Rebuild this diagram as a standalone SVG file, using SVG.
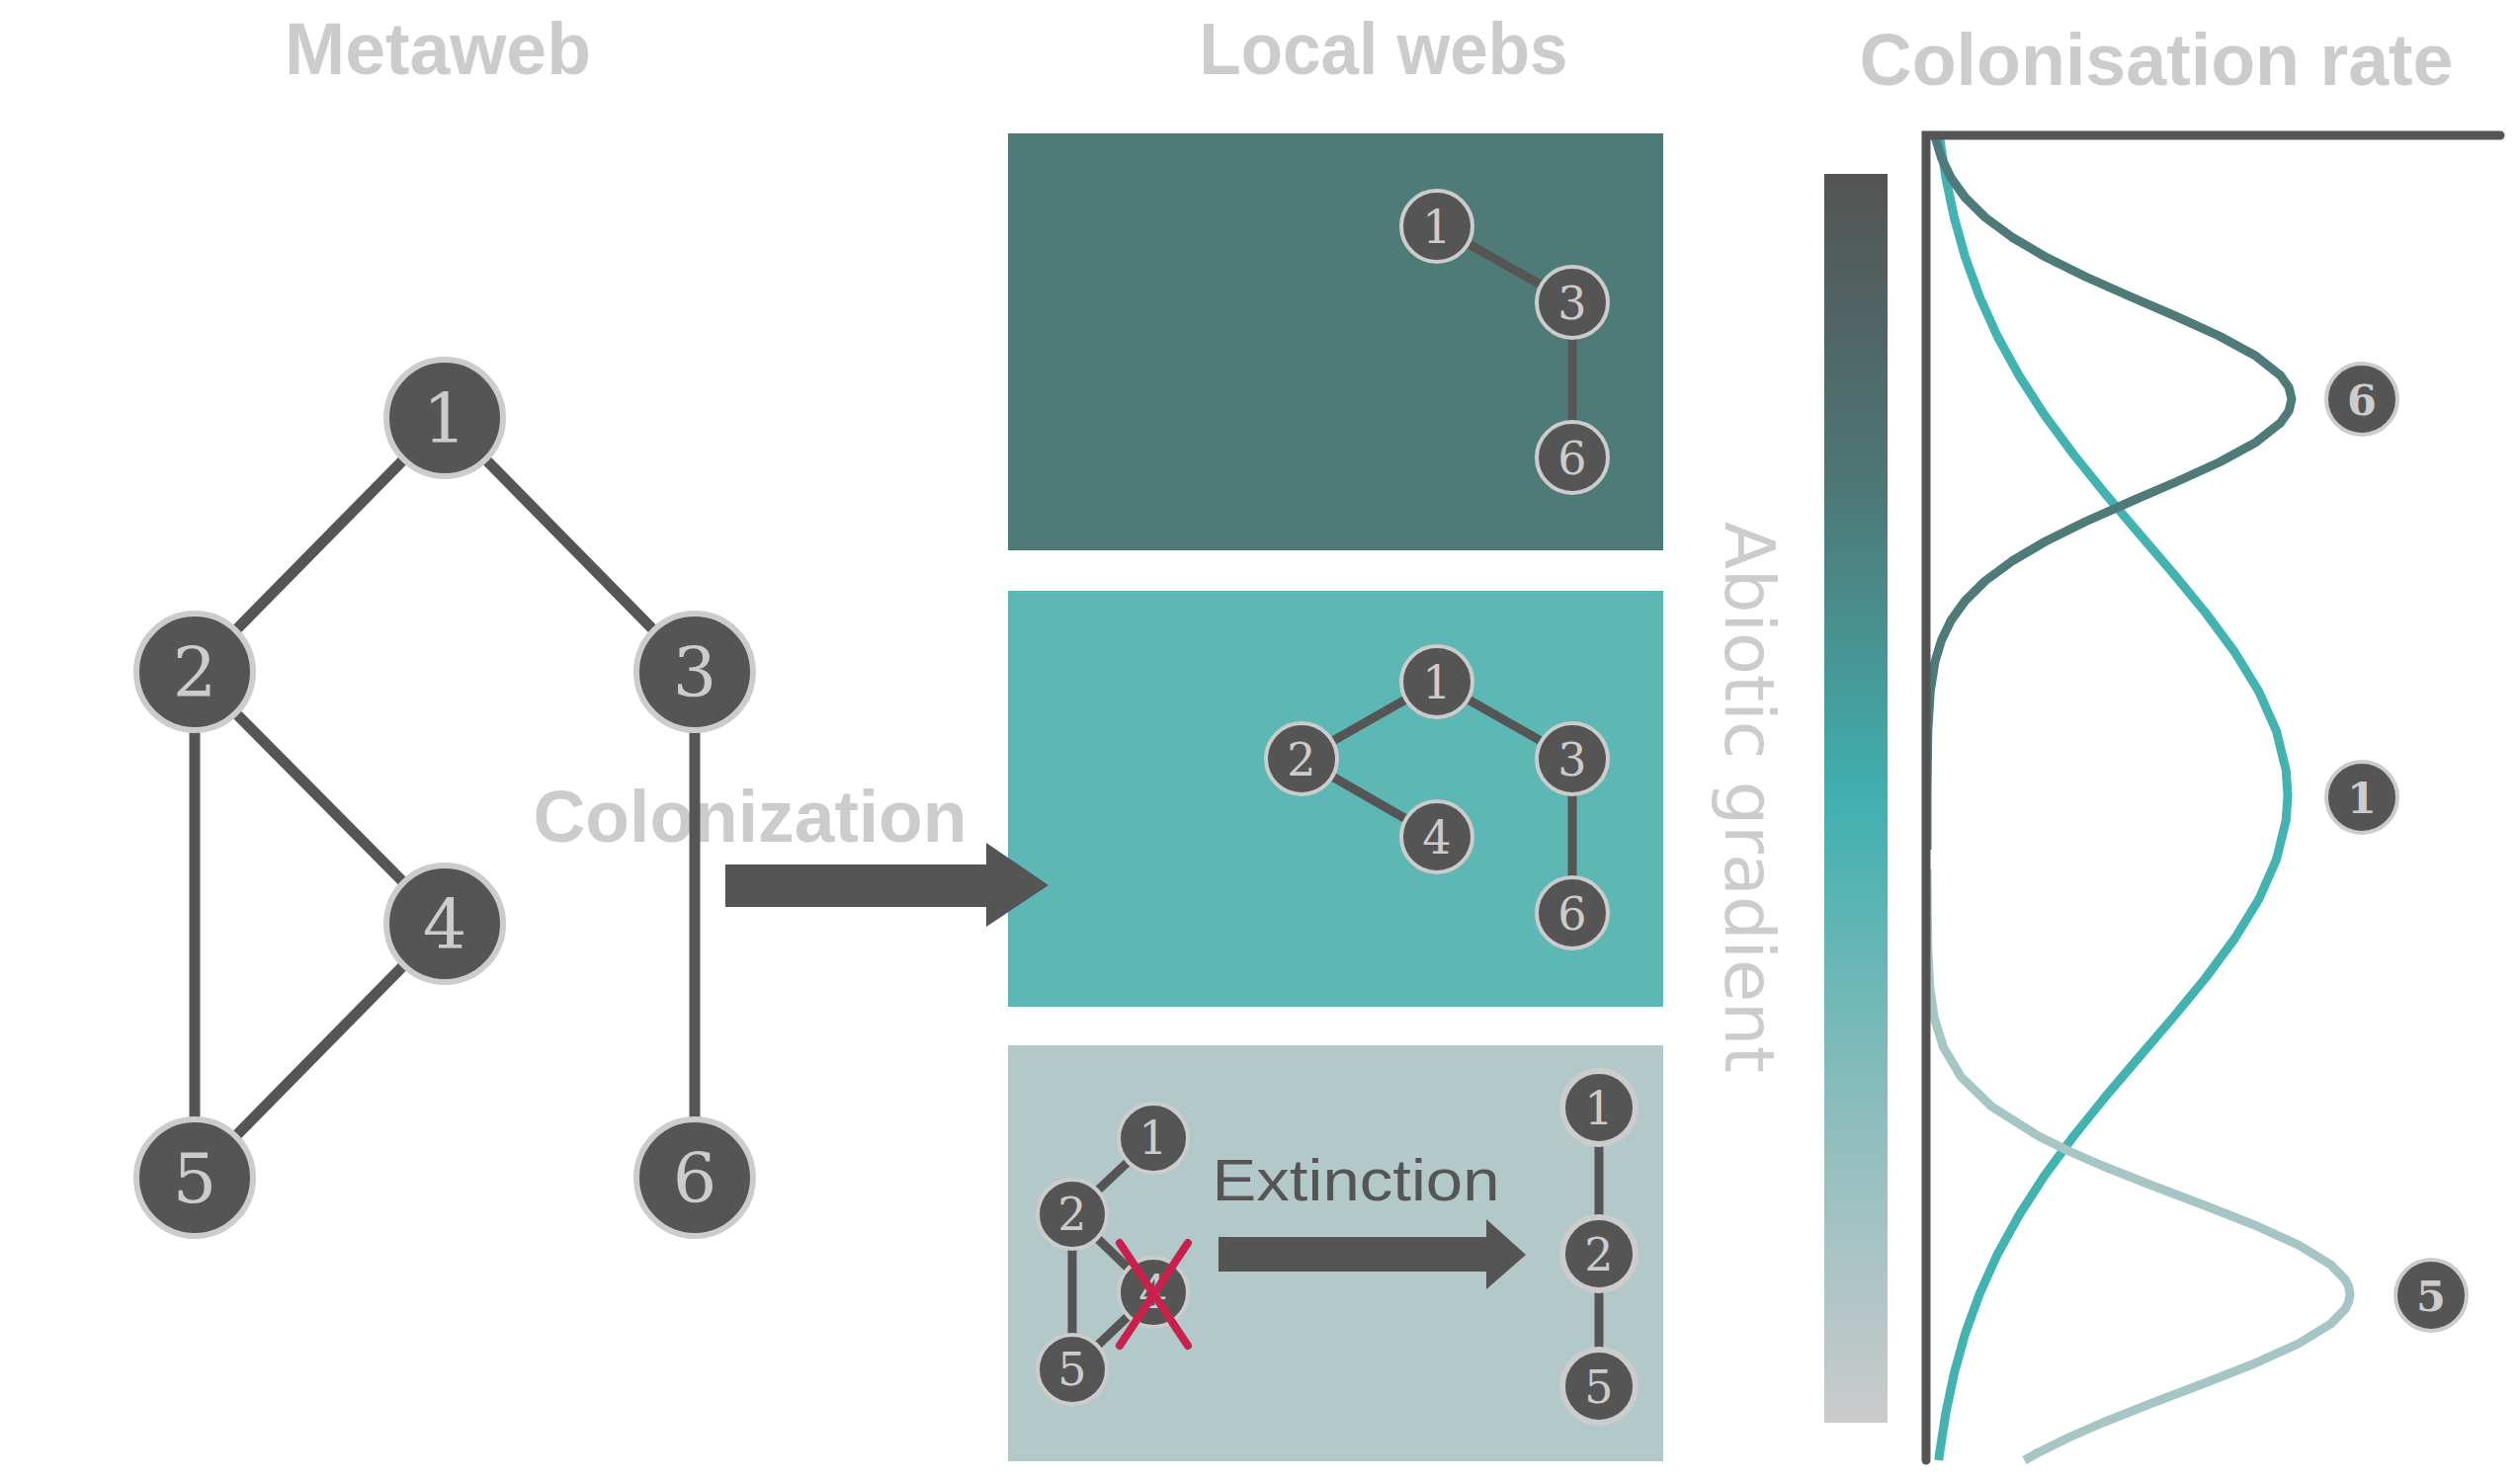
<svg xmlns="http://www.w3.org/2000/svg" width="2550" height="1500" viewBox="0 0 2550 1500">
<style>
.title{font-family:"Liberation Sans",Arial,sans-serif;font-weight:bold;fill:#cccccc;text-anchor:middle}
.nd circle{fill:#555555;stroke:#cccccc}
.big circle{stroke-width:6}
.sm circle{stroke-width:4}
.rt circle{stroke-width:6}
.nd text{font-family:"DejaVu Serif","Liberation Serif",serif;fill:#cccccc;text-anchor:middle}
.big text{font-size:70px}
.sm text{font-size:46px}
.mk text{font-size:43px;font-weight:bold}
.e{stroke:#555555;fill:none}
.me{stroke-width:11}
.le{stroke-width:9}
.arrow{fill:#555555}
.curve{fill:none;stroke-width:9;stroke-linejoin:round}
</style>
<defs>
<linearGradient id="abiotic" x1="0" y1="0" x2="0" y2="1">
<stop offset="0" stop-color="#545454"/>
<stop offset="0.25" stop-color="#4d7776"/>
<stop offset="0.5" stop-color="#41b0af"/>
<stop offset="0.75" stop-color="#8cbdbd"/>
<stop offset="1" stop-color="#cbcbcb"/>
</linearGradient>
</defs>
<rect width="2550" height="1500" fill="#ffffff"/>

<!-- titles -->
<text class="title" x="443" y="75" font-size="74" textLength="310" lengthAdjust="spacingAndGlyphs">Metaweb</text>
<text class="title" x="1400" y="75" font-size="74" textLength="373" lengthAdjust="spacingAndGlyphs">Local webs</text>
<text class="title" x="2182" y="86" font-size="74" textLength="601" lengthAdjust="spacingAndGlyphs">Colonisation rate</text>
<text class="title" x="759" y="852" font-size="74" textLength="439" lengthAdjust="spacingAndGlyphs">Colonization</text>

<!-- local web panels -->
<g id="panels">
<rect id="panel-top" x="1020" y="135" width="663" height="422" fill="#4e7a78"/>
<rect id="panel-mid" x="1020" y="598" width="663" height="421" fill="#5cb7b5"/>
<rect id="panel-bot" x="1020" y="1058" width="663" height="421" fill="#b2c8c9"/>
</g>

<text x="1372" y="1215" font-family="Liberation Sans,Arial,sans-serif" font-size="60" fill="#555555" text-anchor="middle" textLength="291" lengthAdjust="spacingAndGlyphs">Extinction</text>

<!-- gradient bar and label -->
<rect id="gradient-bar" x="1846" y="176" width="64" height="1264" fill="url(#abiotic)"/>
<text transform="translate(1746,528) rotate(90)" font-family="DejaVu Sans,Liberation Sans,sans-serif" font-size="70" fill="#cccccc" textLength="558" lengthAdjust="spacingAndGlyphs">Abiotic gradient</text>

<!-- connectors -->
<g id="connectors">
<g class="e me">
<line x1="450" y1="423" x2="197" y2="680"/>
<line x1="450" y1="423" x2="703" y2="680"/>
<line x1="197" y1="680" x2="450" y2="935"/>
<line x1="197" y1="680" x2="197" y2="1192"/>
<line x1="450" y1="935" x2="197" y2="1192"/>
<line x1="703" y1="680" x2="703" y2="1192"/>
</g>
<g class="e le">
<line x1="1454" y1="229" x2="1591" y2="306"/>
<line x1="1591" y1="306" x2="1591" y2="463"/>
<line x1="1454" y1="690" x2="1317" y2="768"/>
<line x1="1454" y1="690" x2="1591" y2="768"/>
<line x1="1317" y1="768" x2="1454" y2="847"/>
<line x1="1591" y1="768" x2="1591" y2="924"/>
<line x1="1167" y1="1152" x2="1085" y2="1229"/>
<line x1="1085" y1="1229" x2="1167" y2="1308"/>
<line x1="1085" y1="1229" x2="1085" y2="1386"/>
<line x1="1167" y1="1308" x2="1085" y2="1386"/>
<line x1="1618" y1="1121" x2="1618" y2="1269"/>
<line x1="1618" y1="1269" x2="1618" y2="1403"/>
</g>
<polygon id="colonization-arrow" class="arrow" points="734,875 998,875 998,853 1061,896 998,938 998,918 734,918"/>
<polygon id="extinction-arrow" class="arrow" points="1233,1252 1504,1252 1504,1234 1544,1270 1504,1305 1504,1287 1233,1287"/>
</g>

<!-- metaweb nodes -->
<g id="meta-1" class="nd big"><circle cx="450" cy="423" r="59"/><text x="450" y="448">1</text></g>
<g id="meta-2" class="nd big"><circle cx="197" cy="680" r="59"/><text x="197" y="705">2</text></g>
<g id="meta-3" class="nd big"><circle cx="703" cy="680" r="59"/><text x="703" y="705">3</text></g>
<g id="meta-4" class="nd big"><circle cx="450" cy="935" r="59"/><text x="450" y="960">4</text></g>
<g id="meta-5" class="nd big"><circle cx="197" cy="1192" r="59"/><text x="197" y="1217">5</text></g>
<g id="meta-6" class="nd big"><circle cx="703" cy="1192" r="59"/><text x="703" y="1217">6</text></g>

<!-- top local web -->
<g id="top-1" class="nd sm"><circle cx="1454" cy="229" r="36"/><text x="1454" y="246">1</text></g>
<g id="top-3" class="nd sm"><circle cx="1591" cy="306" r="36"/><text x="1591" y="323">3</text></g>
<g id="top-6" class="nd sm"><circle cx="1591" cy="463" r="36"/><text x="1591" y="480">6</text></g>

<!-- middle local web -->
<g id="mid-1" class="nd sm"><circle cx="1454" cy="690" r="36"/><text x="1454" y="707">1</text></g>
<g id="mid-2" class="nd sm"><circle cx="1317" cy="768" r="36"/><text x="1317" y="785">2</text></g>
<g id="mid-3" class="nd sm"><circle cx="1591" cy="768" r="36"/><text x="1591" y="785">3</text></g>
<g id="mid-4" class="nd sm"><circle cx="1454" cy="847" r="36"/><text x="1454" y="864">4</text></g>
<g id="mid-6" class="nd sm"><circle cx="1591" cy="924" r="36"/><text x="1591" y="941">6</text></g>

<!-- bottom local web, before extinction -->
<g id="bot-1" class="nd sm"><circle cx="1167" cy="1152" r="35"/><text x="1167" y="1168" font-size="44">1</text></g>
<g id="bot-2" class="nd sm"><circle cx="1085" cy="1229" r="35"/><text x="1085" y="1245" font-size="44">2</text></g>
<g id="bot-4" class="nd sm"><circle cx="1167" cy="1308" r="35"/><text x="1167" y="1324" font-size="44">4</text>
<g stroke="#c8214e" stroke-width="8" stroke-linecap="round"><line x1="1133" y1="1258" x2="1202" y2="1362"/><line x1="1202" y1="1258" x2="1133" y2="1362"/></g></g>
<g id="bot-5" class="nd sm"><circle cx="1085" cy="1386" r="35"/><text x="1085" y="1402" font-size="44">5</text></g>

<!-- bottom local web, after extinction -->
<g id="after-1" class="nd rt"><circle cx="1618" cy="1121" r="37"/><text x="1618" y="1138" font-size="46">1</text></g>
<g id="after-2" class="nd rt"><circle cx="1618" cy="1269" r="37"/><text x="1618" y="1286" font-size="46">2</text></g>
<g id="after-5" class="nd rt"><circle cx="1618" cy="1403" r="37"/><text x="1618" y="1420" font-size="46">5</text></g>

<!-- colonisation rate chart -->
<g id="chart">
<g transform="translate(-5,0)">
<polyline class="curve" stroke="#42b3b1" points="1967.8,140 1974,180 1982.4,220 1993.5,260 2008,300 2026,340 2048,380 2073.8,420 2103.3,460 2135.5,500 2169.5,540 2203.8,580 2236.7,620 2266.3,660 2290.8,700 2308.5,740 2318.3,780 2320,805 2318.3,830 2308.5,870 2290.8,910 2266.3,950 2236.7,990 2203.8,1030 2169.5,1070 2135.5,1110 2103.3,1150 2073.8,1190 2048,1230 2026,1270 2008,1310 1993.5,1350 1982.4,1390 1974,1430 1967.8,1470 1966.8,1478"/>
<polyline class="curve" stroke="#4e7b79" points="1962.9,138 1969.6,160 1979.2,180 1993.6,200 2013.8,220 2040.8,240 2074.8,260 2115.2,280 2160.2,300 2206.6,320 2250.5,340 2287.2,360 2312.6,380 2321.1,392 2324,404 2321.1,416 2312.6,428 2287.2,448 2250.5,468 2206.6,488 2160.2,508 2115.2,528 2074.8,548 2040.8,568 2013.8,588 1993.6,608 1979.2,628 1969.6,648 1962.9,670 1958.2,700 1955.8,740 1955,800 1955,860"/>
<polyline class="curve" stroke="#a6c6c5" points="1955,880 1955.7,960 1957.9,1000 1962.2,1030 1971.5,1060 1989.4,1090 2020.4,1120 2067.9,1150 2098.3,1165 2132.6,1180 2183,1200 2235.7,1220 2286.6,1240 2330.7,1260 2363.4,1280 2378,1295 2381.6,1302 2383,1310 2381.6,1318 2378,1325 2363.4,1340 2330.7,1360 2286.6,1380 2235.7,1400 2183,1420 2132.6,1440 2098.3,1455 2067.9,1470 2053.5,1478"/>
</g>
<path d="M1949,1478 L1949,137 L2530,137" fill="none" stroke="#555555" stroke-width="9" stroke-linecap="round"/>
</g>

<!-- peak markers -->
<g id="mark-6" class="nd sm mk"><circle cx="2390" cy="404" r="36"/><text x="2390" y="420">6</text></g>
<g id="mark-1" class="nd sm mk"><circle cx="2390" cy="807" r="36"/><text x="2390" y="823">1</text></g>
<g id="mark-5" class="nd sm mk"><circle cx="2460" cy="1311" r="36"/><text x="2460" y="1327">5</text></g>
</svg>
